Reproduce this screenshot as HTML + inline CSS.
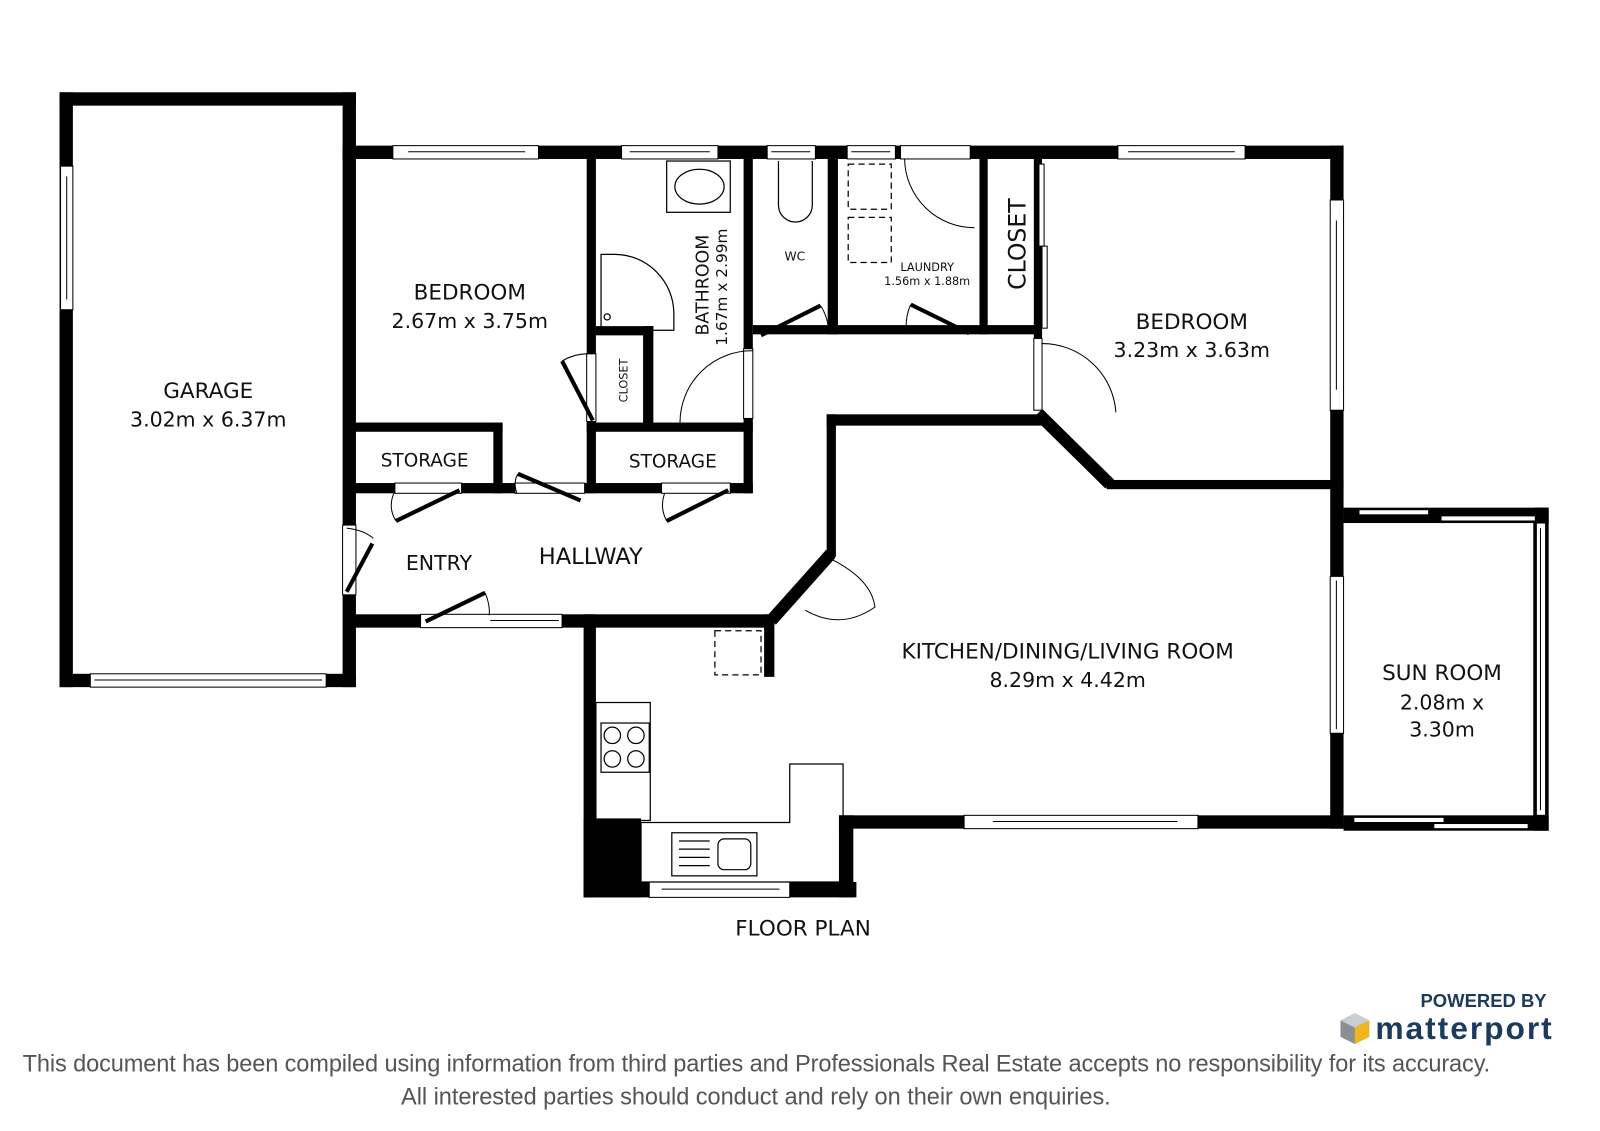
<!DOCTYPE html>
<html><head><meta charset="utf-8"><style>
html,body{margin:0;padding:0;background:#fff;}
svg{display:block;}
text{font-family:"DejaVu Sans","Liberation Sans",sans-serif;fill:#111;}
.ft{font-family:"Liberation Sans",sans-serif;fill:#555;}
</style></head><body>
<svg width="1600" height="1131" viewBox="0 0 1560 1102.8" xmlns="http://www.w3.org/2000/svg">
<rect width="1560" height="1103" fill="#fff"/>
<g fill="#000">
<rect x="58" y="90" width="289" height="13"/>
<rect x="58" y="90" width="13" height="580"/>
<rect x="58" y="657" width="289" height="13"/>
<rect x="334" y="90" width="13" height="580"/>
<rect x="334" y="142" width="976" height="13"/>
<rect x="572" y="155" width="9" height="326"/>
<rect x="725" y="155" width="9" height="185"/>
<rect x="725" y="408" width="9" height="73"/>
<rect x="807" y="155" width="10" height="171"/>
<rect x="955" y="155" width="8" height="171"/>
<rect x="1008" y="155" width="8" height="175"/>
<rect x="1297" y="142" width="13" height="666"/>
<rect x="734" y="317" width="282" height="9"/>
<rect x="627" y="318" width="10" height="95"/>
<rect x="581" y="318" width="56" height="9"/>
<rect x="341" y="412" width="149" height="9"/>
<rect x="481" y="412" width="9" height="69"/>
<rect x="341" y="471" width="393" height="10"/>
<rect x="572" y="412" width="162" height="9"/>
<rect x="341" y="599" width="411" height="13"/>
<rect x="806" y="404" width="210" height="11"/>
<rect x="806" y="404" width="9" height="139"/>
<rect x="745" y="599" width="10" height="61"/>
<rect x="1079" y="468" width="231" height="9"/>
<rect x="569" y="599" width="12" height="276"/>
<rect x="569" y="798" width="56" height="77"/>
<rect x="569" y="860" width="266" height="15"/>
<rect x="818" y="795" width="14" height="80"/>
<rect x="818" y="795" width="492" height="13"/>
<rect x="1310" y="495" width="200" height="15"/>
<rect x="1495" y="495" width="15" height="315"/>
<rect x="1310" y="795" width="200" height="15"/>
</g>
<g stroke="#000" stroke-width="12" fill="none">
<line x1="810" y1="540" x2="752" y2="605"/>
<line x1="1012" y1="403" x2="1082" y2="472"/>
</g>
<g fill="#fff" stroke="#000" stroke-width="1">
<rect x="59" y="162" width="12" height="140"/><line x1="65" y1="172" x2="65" y2="292"/>
<rect x="88" y="657" width="230" height="13"/><line x1="92" y1="663" x2="314" y2="663"/>
<rect x="383" y="142" width="142" height="13"/><line x1="398" y1="148" x2="512" y2="148"/>
<rect x="606" y="142" width="94" height="13"/><line x1="614" y1="148" x2="692" y2="148"/>
<rect x="748" y="142" width="47" height="13"/><line x1="752" y1="148" x2="790" y2="148"/>
<rect x="826" y="142" width="47" height="13"/><line x1="830" y1="148" x2="868" y2="148"/>
<rect x="878" y="142" width="68" height="13"/>
<rect x="1090" y="142" width="124" height="13"/><line x1="1100" y1="148" x2="1204" y2="148"/>
<rect x="1297" y="195" width="13" height="205"/><line x1="1303" y1="215" x2="1303" y2="380"/>
<rect x="1297" y="562" width="13" height="153"/><line x1="1303" y1="566" x2="1303" y2="711"/>
<rect x="725" y="340" width="9" height="68"/>
<rect x="572" y="345" width="9" height="66"/>
<rect x="1008" y="330" width="8" height="70"/>
<rect x="410" y="599" width="138" height="13"/><line x1="478" y1="605" x2="545" y2="605"/>
<rect x="334" y="512" width="13" height="68"/>
<rect x="385" y="471" width="65" height="10"/>
<rect x="502" y="471" width="68" height="10"/>
<rect x="645" y="471" width="67" height="10"/>
<rect x="633" y="860" width="137" height="15"/><line x1="645" y1="867" x2="760" y2="867"/>
<rect x="940" y="795" width="228" height="13"/><line x1="968" y1="801" x2="1148" y2="801"/>
<rect x="1325" y="497" width="68" height="5"/><rect x="1405" y="503" width="92" height="5"/>
<rect x="1320" y="797" width="88" height="5"/><rect x="1398" y="803" width="92" height="5"/>
<rect x="1498" y="510" width="9" height="285"/><line x1="1502" y1="515" x2="1502" y2="790"/>
<rect x="1013" y="160" width="5" height="80"/><rect x="1016" y="240" width="5" height="80"/>
</g>
<g stroke="#000" stroke-width="4" fill="none">
<line x1="548" y1="352" x2="578" y2="410"/>
<line x1="742" y1="327" x2="800" y2="298"/>
<line x1="888" y1="297" x2="945" y2="325"/>
<line x1="386" y1="508" x2="448" y2="478"/>
<line x1="505" y1="462" x2="566" y2="488"/>
<line x1="650" y1="508" x2="710" y2="478"/>
<line x1="338" y1="577" x2="363" y2="530"/>
<line x1="415" y1="606" x2="473" y2="578"/>
<line x1="770" y1="585" x2="810" y2="545"/>
</g>
<g stroke="#000" stroke-width="1" fill="none">
<path d="M548 352 Q560 345 572 345"/>
<path d="M663 412 A70 70 0 0 1 734 342"/>
<path d="M800 298 Q808 310 808 326"/>
<path d="M888 297 Q882 310 884 326"/>
<path d="M882 155 A68 68 0 0 0 950 222"/>
<path d="M1016 335 A72 72 0 0 1 1088 402"/>
<path d="M386 508 Q378 495 384 481"/>
<path d="M505 462 Q500 470 504 481"/>
<path d="M650 508 Q643 495 648 481"/>
<path d="M338 515 Q355 517 364 525"/>
<path d="M473 578 Q478 590 477 600"/>
<path d="M810 545 Q850 565 853 592 Q820 615 785 595"/>
</g>
<g stroke="#000" stroke-width="1.2" fill="none">
<rect x="650" y="157" width="62" height="50"/><ellipse cx="682" cy="182" rx="24" ry="17"/>
<path d="M586 248 L600 248 A58 58 0 0 1 657 305 L657 322 L586 322 Z"/><circle cx="592" cy="309" r="3"/>
<path d="M759 157 L759 200 A16 16 0 0 0 792 200 L792 157"/>
<rect x="827" y="160" width="42" height="44" stroke-dasharray="6,4"/>
<rect x="827" y="212" width="42" height="44" stroke-dasharray="6,4"/>
<rect x="697" y="615" width="45" height="43" stroke-dasharray="6,4"/>
<rect x="581" y="685" width="53" height="115"/>
<rect x="586" y="705" width="47" height="48"/>
<circle cx="597" cy="717" r="8"/><circle cx="620" cy="717" r="8"/><circle cx="597" cy="740" r="8"/><circle cx="620" cy="740" r="8"/>
<path d="M625 802 L770 802 L770 745 L822 745 L822 860 L625 860 Z"/>
<rect x="655" y="812" width="83" height="42"/><rect x="700" y="818" width="32" height="30" rx="6"/>
<line x1="662" y1="820" x2="692" y2="820"/><line x1="662" y1="828" x2="692" y2="828"/><line x1="662" y1="836" x2="692" y2="836"/><line x1="662" y1="844" x2="692" y2="844"/>
</g>
<g text-anchor="middle">
<text x="203" y="388" font-size="21">GARAGE</text>
<text x="203" y="416" font-size="20">3.02m x 6.37m</text>
<text x="458" y="292" font-size="21">BEDROOM</text>
<text x="458" y="320" font-size="20">2.67m x 3.75m</text>
<text x="414" y="455" font-size="18">STORAGE</text>
<text x="656" y="456" font-size="18">STORAGE</text>
<text x="428" y="556" font-size="20">ENTRY</text>
<text x="576" y="550" font-size="22">HALLWAY</text>
<text x="775" y="254" font-size="12">WC</text>
<text x="904" y="264" font-size="11">LAUNDRY</text>
<text x="904" y="278" font-size="11">1.56m x 1.88m</text>
<text x="1162" y="321" font-size="21">BEDROOM</text>
<text x="1162" y="348" font-size="20">3.23m x 3.63m</text>
<text x="1041" y="642" font-size="21">KITCHEN/DINING/LIVING ROOM</text>
<text x="1041" y="670" font-size="20">8.29m x 4.42m</text>
<text x="1406" y="663" font-size="21">SUN ROOM</text>
<text x="1406" y="692" font-size="20">2.08m x</text>
<text x="1406" y="718" font-size="20">3.30m</text>
<text x="783" y="912" font-size="21">FLOOR PLAN</text>
<text transform="translate(691,278) rotate(-90)" font-size="17">BATHROOM</text>
<text transform="translate(709,280) rotate(-90)" font-size="15">1.67m x 2.99m</text>
<text transform="translate(612,371) rotate(-90)" font-size="11">CLOSET</text>
<text transform="translate(1000,238) rotate(-90)" font-size="23">CLOSET</text>
</g>
<text x="1508" y="982" text-anchor="end" font-size="18" font-weight="bold" style="font-family:'Liberation Sans',sans-serif;fill:#1b3a5c">POWERED BY</text>
<g transform="translate(1307,988)">
<polygon points="14,0 28,7 28,23 14,30 0,23 0,7" fill="#8a8f96"/>
<polygon points="14,14 28,7 28,23 14,30" fill="#f2b51c"/>
<polygon points="14,0 28,7 14,14 0,7" fill="#c9ccd1"/>
</g>
<text x="1341" y="1013" font-size="31" font-weight="bold" textLength="172" style="font-family:'Liberation Sans',sans-serif;fill:#1b3a5c">matterport</text>
<text class="ft" x="22" y="1045" font-size="23" textLength="1431">This document has been compiled using information from third parties and Professionals Real Estate accepts no responsibility for its accuracy.</text>
<text class="ft" x="391" y="1077" font-size="23" textLength="692">All interested parties should conduct and rely on their own enquiries.</text>
</svg>
</body></html>
